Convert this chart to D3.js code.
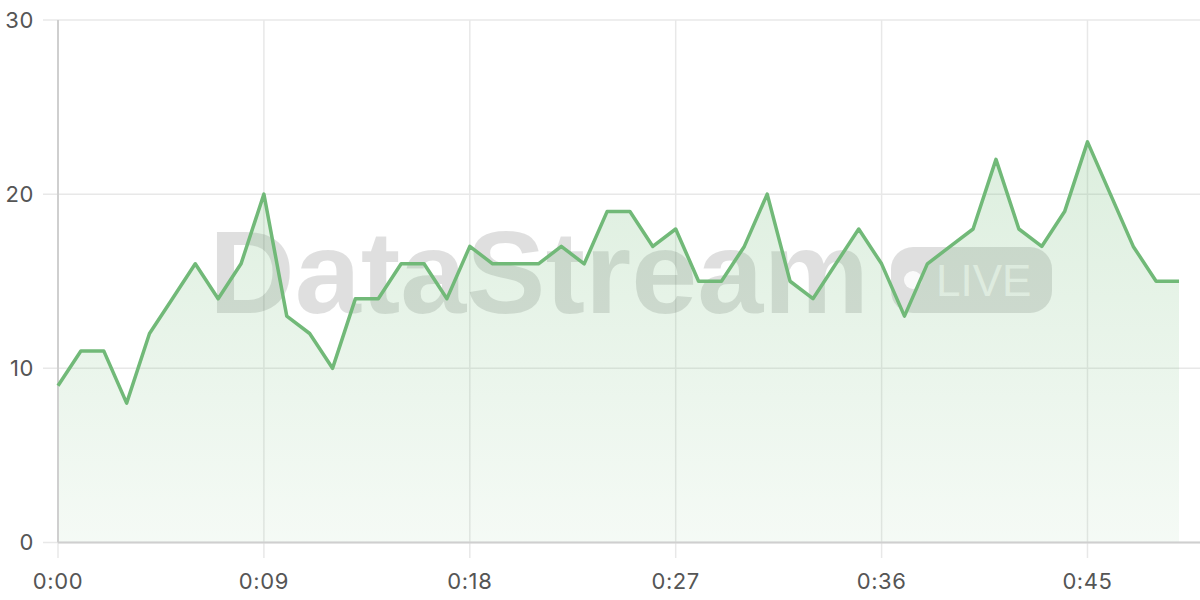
<!DOCTYPE html>
<html lang="en">
    <head>
        <meta charset="UTF-8">
        <title>DataStream live</title>
        <script src="https://d3js.org/d3.v7.min.js"></script>
        <style>
        body{ margin:0; background:#fff; }
        .grid line{ stroke:#e8e8e8; stroke-width:1.5px; }
        .axis-line{ stroke:#cfcfcf; stroke-width:2px; }
        .tick-label{ fill:#555; font-family:Inter, "Liberation Sans", Arial, sans-serif; font-size:22px; letter-spacing:0.6px; }
        .watermark{ font-family:"Liberation Sans", Arial, sans-serif; font-weight:bold; fill:#000; fill-opacity:0.125; }
        .spark{ fill:none; stroke:#71b978; stroke-width:3.5px; stroke-linejoin:round; }
        </style>
    </head>
    <body>
        <svg class="chart" width="1200" height="600"></svg>
    <script>

        // one reading per minute
        var minutes = d3.range(0, 50);
        var values = [9, 11, 11, 8, 12, 14, 16, 14, 16, 20,
                      13, 12, 10, 14, 14, 16, 16, 14, 17, 16,
                      16, 16, 17, 16, 19, 19, 17, 18, 15, 15,
                      17, 20, 15, 14, 16, 18, 16, 13, 16, 17,
                      18, 22, 18, 17, 19, 23, 20, 17, 15, 15];
        var xTicks = [0, 9, 18, 27, 36, 45];
        var yTicks = [0, 10, 20, 30];

        var svg = d3.select('svg.chart');

        var x = d3.scaleLinear().domain([0, 49]).range([58, 1179]);
        var y = d3.scaleLinear().domain([0, 30]).range([542.5, 20]);

        function label(m){ return '0:' + d3.format('02d')(m); }

        var data = minutes.map(function(m, i){ return {m:m, v:values[i]}; });

        // gradient for the area
        var grad = svg.append('defs').append('linearGradient')
            .attr('id', 'fade')
            .attr('x1', 0).attr('y1', 0).attr('x2', 0).attr('y2', 1);
        grad.append('stop').attr('offset', '0%').attr('stop-color', '#6fba76').attr('stop-opacity', 0.24);
        grad.append('stop').attr('offset', '100%').attr('stop-color', '#6fba76').attr('stop-opacity', 0.07);

        // grid
        var grid = svg.append('g').attr('class', 'grid');
        grid.selectAll('line.h')
            .data(yTicks)
            .enter().append('line')
                .attr('class', 'h')
                .attr('x1', 43).attr('x2', 1200)
                .attr('y1', function(d){ return y(d); })
                .attr('y2', function(d){ return y(d); });
        grid.selectAll('line.v')
            .data(xTicks)
            .enter().append('line')
                .attr('class', 'v')
                .attr('x1', function(d){ return x(d); })
                .attr('x2', function(d){ return x(d); })
                .attr('y1', y(30)).attr('y2', 558);

        // watermark
        svg.append('text')
            .attr('class', 'watermark')
            .attr('x', 209).attr('y', 313)
            .attr('font-size', 116)
            .attr('textLength', 660)
            .attr('lengthAdjust', 'spacingAndGlyphs')
            .text('DataStream');
        var badge = svg.append('g').attr('class', 'badge');
        badge.append('rect')
            .attr('x', 891).attr('y', 247)
            .attr('width', 161).attr('height', 66)
            .attr('rx', 22)
            .attr('fill', '#000').attr('fill-opacity', 0.125);
        badge.append('circle')
            .attr('cx', 913).attr('cy', 280).attr('r', 9)
            .attr('fill', '#fff').attr('fill-opacity', 0.85);
        badge.append('text')
            .attr('x', 936).attr('y', 296)
            .attr('font-family', '"Liberation Sans", Arial, sans-serif')
            .attr('font-size', 44)
            .attr('fill', '#fff').attr('fill-opacity', 0.72)
            .text('LIVE');

        // area + line
        var area = d3.area()
            .x(function(d){ return x(d.m); })
            .y0(y(0))
            .y1(function(d){ return y(d.v); });
        var line = d3.line()
            .x(function(d){ return x(d.m); })
            .y(function(d){ return y(d.v); });

        svg.append('path')
            .datum(data)
            .attr('fill', 'url(#fade)')
            .attr('d', area);

        // axes lines
        svg.append('line').attr('class', 'axis-line')
            .attr('x1', x(0)).attr('x2', 1200)
            .attr('y1', y(0)).attr('y2', y(0));
        svg.append('line').attr('class', 'axis-line')
            .attr('x1', x(0)).attr('x2', x(0))
            .attr('y1', y(30)).attr('y2', y(0));

        svg.append('path')
            .datum(data)
            .attr('class', 'spark')
            .attr('d', line);

        // tick labels
        svg.selectAll('text.ylab')
            .data(yTicks)
            .enter().append('text')
                .attr('class', 'tick-label ylab')
                .attr('x', 34)
                .attr('y', function(d){ return y(d); })
                .attr('dy', '0.36em')
                .attr('text-anchor', 'end')
                .text(function(d){ return d; });
        svg.selectAll('text.xlab')
            .data(xTicks)
            .enter().append('text')
                .attr('class', 'tick-label xlab')
                .attr('x', function(d){ return x(d); })
                .attr('y', 589)
                .attr('text-anchor', 'middle')
                .text(label);

    </script>
    </body>
</html>
